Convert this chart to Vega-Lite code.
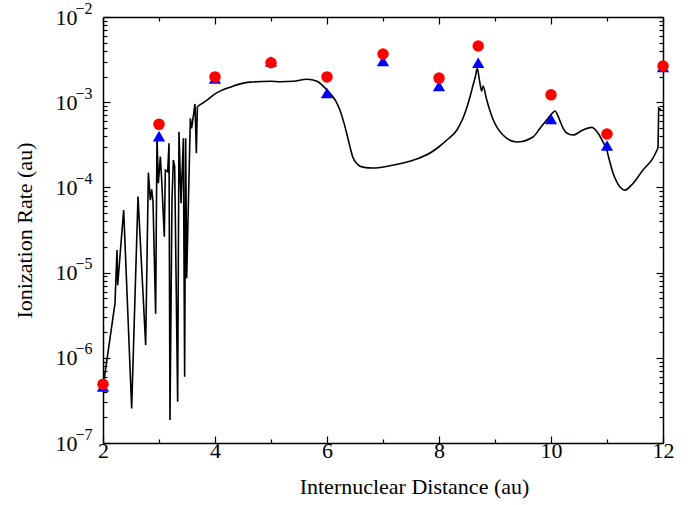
{
  "$schema": "https://vega.github.io/schema/vega-lite/v6.json",
  "width": 560,
  "height": 426,
  "autosize": "none",
  "padding": {"left": 103, "top": 17, "right": 35, "bottom": 62},
  "background": "white",
  "config": {
    "view": {"stroke": null},
    "font": "Liberation Serif",
    "axis": {
      "grid": false,
      "domainColor": "black",
      "domainWidth": 1.5,
      "tickColor": "black",
      "tickWidth": 1.2,
      "labelColor": "black",
      "titleColor": "black",
      "labelFont": "Liberation Serif",
      "titleFont": "Liberation Serif",
      "labelFontSize": 22,
      "titleFontSize": 22,
      "titleFontWeight": "normal",
      "labelOverlap": false,
      "labelFlush": false
    }
  },
  "datasets": {
    "curve_osc": [
      {"r": 2.0, "rate": 4.5e-7},
      {"r": 2.214, "rate": 4.35e-6},
      {"r": 2.25, "rate": 1.84e-5},
      {"r": 2.262, "rate": 7.1e-6},
      {"r": 2.369, "rate": 5.43e-5},
      {"r": 2.512, "rate": 2.55e-7},
      {"r": 2.625, "rate": 7.8e-5},
      {"r": 2.762, "rate": 1.41e-6},
      {"r": 2.81, "rate": 1.49e-4},
      {"r": 2.845, "rate": 7.1e-5},
      {"r": 2.869, "rate": 9.5e-5},
      {"r": 2.893, "rate": 6.8e-5},
      {"r": 2.94, "rate": 3.3e-6},
      {"r": 2.964, "rate": 3.94e-4},
      {"r": 2.988, "rate": 1.12e-4},
      {"r": 3.024, "rate": 2.3e-4},
      {"r": 3.048, "rate": 1.22e-4},
      {"r": 3.095, "rate": 2.64e-5},
      {"r": 3.113, "rate": 1.6e-4},
      {"r": 3.155, "rate": 1.53e-4},
      {"r": 3.179, "rate": 3.29e-4},
      {"r": 3.196, "rate": 1.86e-7},
      {"r": 3.232, "rate": 7.1e-5},
      {"r": 3.256, "rate": 2.1e-4},
      {"r": 3.28, "rate": 1.75e-4},
      {"r": 3.333, "rate": 3.05e-7},
      {"r": 3.357, "rate": 4.5e-4},
      {"r": 3.393, "rate": 6.5e-5},
      {"r": 3.435, "rate": 3.77e-4},
      {"r": 3.458, "rate": 6.0e-7},
      {"r": 3.476, "rate": 3.77e-4},
      {"r": 3.494, "rate": 8.6e-6},
      {"r": 3.56, "rate": 6.46e-4},
      {"r": 3.583, "rate": 4.93e-4},
      {"r": 3.643, "rate": 9.55e-4},
      {"r": 3.667, "rate": 2.51e-4},
      {"r": 3.685, "rate": 8.87e-4}
    ],
    "curve_smooth": [
      {"r": 3.685, "rate": 8.87e-4},
      {"r": 3.85, "rate": 1.05e-3},
      {"r": 4.0, "rate": 1.25e-3},
      {"r": 4.27, "rate": 1.5e-3},
      {"r": 4.62, "rate": 1.72e-3},
      {"r": 5.0, "rate": 1.76e-3},
      {"r": 5.16, "rate": 1.74e-3},
      {"r": 5.4, "rate": 1.76e-3},
      {"r": 5.64, "rate": 1.86e-3},
      {"r": 5.75, "rate": 1.82e-3},
      {"r": 5.84, "rate": 1.74e-3},
      {"r": 5.95, "rate": 1.5e-3},
      {"r": 6.05, "rate": 1.28e-3},
      {"r": 6.15, "rate": 1.05e-3},
      {"r": 6.23, "rate": 8.1e-4},
      {"r": 6.30, "rate": 5.8e-4},
      {"r": 6.35, "rate": 4.35e-4},
      {"r": 6.40, "rate": 3.2e-4},
      {"r": 6.46, "rate": 2.27e-4},
      {"r": 6.55, "rate": 1.85e-4},
      {"r": 6.64, "rate": 1.73e-4},
      {"r": 6.82, "rate": 1.69e-4},
      {"r": 7.1, "rate": 1.78e-4},
      {"r": 7.36, "rate": 1.93e-4},
      {"r": 7.6, "rate": 2.15e-4},
      {"r": 7.84, "rate": 2.53e-4},
      {"r": 8.0, "rate": 3.0e-4},
      {"r": 8.14, "rate": 3.6e-4},
      {"r": 8.32, "rate": 4.72e-4},
      {"r": 8.42, "rate": 6.3e-4},
      {"r": 8.5, "rate": 8.8e-4},
      {"r": 8.56, "rate": 1.2e-3},
      {"r": 8.61, "rate": 1.6e-3},
      {"r": 8.65, "rate": 2.0e-3},
      {"r": 8.684, "rate": 2.5e-3},
      {"r": 8.72, "rate": 1.85e-3},
      {"r": 8.762, "rate": 1.35e-3},
      {"r": 8.785, "rate": 1.55e-3},
      {"r": 8.85, "rate": 1.08e-3},
      {"r": 8.9, "rate": 8.3e-4},
      {"r": 8.964, "rate": 6.3e-4},
      {"r": 9.05, "rate": 4.9e-4},
      {"r": 9.143, "rate": 4.12e-4},
      {"r": 9.387, "rate": 3.41e-4},
      {"r": 9.679, "rate": 3.91e-4},
      {"r": 9.8, "rate": 4.9e-4},
      {"r": 9.923, "rate": 6.18e-4},
      {"r": 10.02, "rate": 7.4e-4},
      {"r": 10.071, "rate": 7.88e-4},
      {"r": 10.12, "rate": 7.0e-4},
      {"r": 10.161, "rate": 6.0e-4},
      {"r": 10.22, "rate": 4.9e-4},
      {"r": 10.28, "rate": 4.35e-4},
      {"r": 10.393, "rate": 4.12e-4},
      {"r": 10.571, "rate": 4.72e-4},
      {"r": 10.727, "rate": 5.07e-4},
      {"r": 10.839, "rate": 4.35e-4},
      {"r": 10.92, "rate": 3.5e-4},
      {"r": 10.995, "rate": 2.75e-4},
      {"r": 11.05, "rate": 2.0e-4},
      {"r": 11.107, "rate": 1.48e-4},
      {"r": 11.17, "rate": 1.18e-4},
      {"r": 11.232, "rate": 1.01e-4},
      {"r": 11.321, "rate": 9.3e-5},
      {"r": 11.441, "rate": 1.07e-4},
      {"r": 11.643, "rate": 1.6e-4},
      {"r": 11.821, "rate": 2.21e-4},
      {"r": 11.911, "rate": 2.9e-4}
    ],
    "curve_end": [
      {"r": 11.911, "rate": 2.9e-4},
      {"r": 11.923, "rate": 8.55e-4},
      {"r": 11.964, "rate": 8.1e-4}
    ],
    "tri": [
      {"r": 2, "rate": 4.6e-7},
      {"r": 3, "rate": 4.0e-4},
      {"r": 4, "rate": 1.9e-3},
      {"r": 5, "rate": 3.0e-3},
      {"r": 6, "rate": 1.28e-3},
      {"r": 7, "rate": 3.05e-3},
      {"r": 8, "rate": 1.55e-3},
      {"r": 8.7, "rate": 2.9e-3},
      {"r": 10, "rate": 6.35e-4},
      {"r": 11, "rate": 3.1e-4},
      {"r": 12, "rate": 2.6e-3}
    ],
    "circ": [
      {"r": 2, "rate": 4.9e-7},
      {"r": 3, "rate": 5.5e-4},
      {"r": 4, "rate": 1.98e-3},
      {"r": 5, "rate": 2.9e-3},
      {"r": 6, "rate": 1.98e-3},
      {"r": 7, "rate": 3.68e-3},
      {"r": 8, "rate": 1.92e-3},
      {"r": 8.7, "rate": 4.57e-3},
      {"r": 10, "rate": 1.22e-3},
      {"r": 11, "rate": 4.24e-4},
      {"r": 12, "rate": 2.66e-3}
    ]
  },
  "resolve": {"axis": {"x": "independent", "y": "independent"}},
  "layer": [
    {
      "data": {"name": "curve_osc"},
      "mark": {"type": "line", "color": "black", "strokeWidth": 1.6},
      "encoding": {
        "x": {
          "field": "r", "type": "quantitative",
          "scale": {"domain": [2, 12], "nice": false, "zero": false},
          "axis": {
            "orient": "bottom",
            "values": [2, 3, 4, 5, 6, 7, 8, 9, 10, 11, 12],
            "tickSize": {"condition": {"test": "datum.value % 2 == 0", "value": -7}, "value": -4},
            "labelExpr": "datum.value % 2 == 0 ? datum.label : ''",
            "labelPadding": 4,
            "title": "Internuclear Distance (au)",
            "titleX": 311,
            "titleY": 50,
            "titleAnchor": null,
            "titleAlign": "center",
            "titleBaseline": "alphabetic"
          }
        },
        "y": {
          "field": "rate", "type": "quantitative",
          "scale": {"type": "log", "domain": [1e-7, 1e-2], "nice": false},
          "axis": {
            "orient": "left",
            "values": [1e-7, 2e-7, 3e-7, 4e-7, 5e-7, 6e-7, 7e-7, 8e-7, 9e-7,
                       1e-6, 2e-6, 3e-6, 4e-6, 5e-6, 6e-6, 7e-6, 8e-6, 9e-6,
                       1e-5, 2e-5, 3e-5, 4e-5, 5e-5, 6e-5, 7e-5, 8e-5, 9e-5,
                       1e-4, 2e-4, 3e-4, 4e-4, 5e-4, 6e-4, 7e-4, 8e-4, 9e-4,
                       1e-3, 2e-3, 3e-3, 4e-3, 5e-3, 6e-3, 7e-3, 8e-3, 9e-3, 1e-2],
            "tickSize": {"condition": {"test": "abs(log(datum.value)/LN10 - round(log(datum.value)/LN10)) < 0.001", "value": -7}, "value": -4},
            "labelExpr": "abs(log(datum.value)/LN10 - round(log(datum.value)/LN10)) < 0.001 ? '10' : ''",
            "labelPadding": 33,
            "title": "Ionization Rate (au)",
            "titleX": -72,
            "titleY": 213,
            "titleAnchor": null,
            "titleAlign": "center",
            "titleBaseline": "alphabetic",
            "titleAngle": -90
          }
        }
      }
    },
    {
      "data": {"name": "curve_smooth"},
      "mark": {"type": "line", "color": "black", "strokeWidth": 1.6, "interpolate": "monotone"},
      "encoding": {
        "x": {"field": "r", "type": "quantitative", "axis": null},
        "y": {"field": "rate", "type": "quantitative", "axis": null}
      }
    },
    {
      "data": {"name": "curve_end"},
      "mark": {"type": "line", "color": "black", "strokeWidth": 1.6},
      "encoding": {
        "x": {"field": "r", "type": "quantitative", "axis": null},
        "y": {"field": "rate", "type": "quantitative", "axis": null}
      }
    },
    {
      "data": {"name": "tri"},
      "mark": {"type": "point", "shape": "triangle-up", "filled": true, "color": "#0000ff", "size": 150, "opacity": 1},
      "encoding": {
        "x": {
          "field": "r", "type": "quantitative",
          "axis": {
            "orient": "top",
            "values": [2, 3, 4, 5, 6, 7, 8, 9, 10, 11, 12],
            "tickSize": {"condition": {"test": "datum.value % 2 == 0", "value": -7}, "value": -4},
            "labels": false,
            "title": null
          }
        },
        "y": {
          "field": "rate", "type": "quantitative",
          "axis": {
            "orient": "right",
            "values": [1e-7, 2e-7, 3e-7, 4e-7, 5e-7, 6e-7, 7e-7, 8e-7, 9e-7,
                       1e-6, 2e-6, 3e-6, 4e-6, 5e-6, 6e-6, 7e-6, 8e-6, 9e-6,
                       1e-5, 2e-5, 3e-5, 4e-5, 5e-5, 6e-5, 7e-5, 8e-5, 9e-5,
                       1e-4, 2e-4, 3e-4, 4e-4, 5e-4, 6e-4, 7e-4, 8e-4, 9e-4,
                       1e-3, 2e-3, 3e-3, 4e-3, 5e-3, 6e-3, 7e-3, 8e-3, 9e-3, 1e-2],
            "tickSize": {"condition": {"test": "abs(log(datum.value)/LN10 - round(log(datum.value)/LN10)) < 0.001", "value": -7}, "value": -4},
            "labels": false,
            "title": null
          }
        }
      }
    },
    {
      "data": {"name": "circ"},
      "mark": {"type": "point", "shape": "circle", "filled": true, "color": "#ff0000", "size": 132, "opacity": 1},
      "encoding": {
        "x": {"field": "r", "type": "quantitative", "axis": null},
        "y": {
          "field": "rate", "type": "quantitative",
          "axis": {
            "orient": "left",
            "values": [1e-7, 1e-6, 1e-5, 1e-4, 1e-3, 1e-2],
            "domain": false,
            "ticks": false,
            "labelExpr": "['0','−1','−2','−3','−4','−5','−6','−7'][-round(log(datum.value)/LN10)]",
            "labelFontSize": 16,
            "labelPadding": 11,
            "labelOffset": -9,
            "title": null
          }
        }
      }
    }
  ]
}
